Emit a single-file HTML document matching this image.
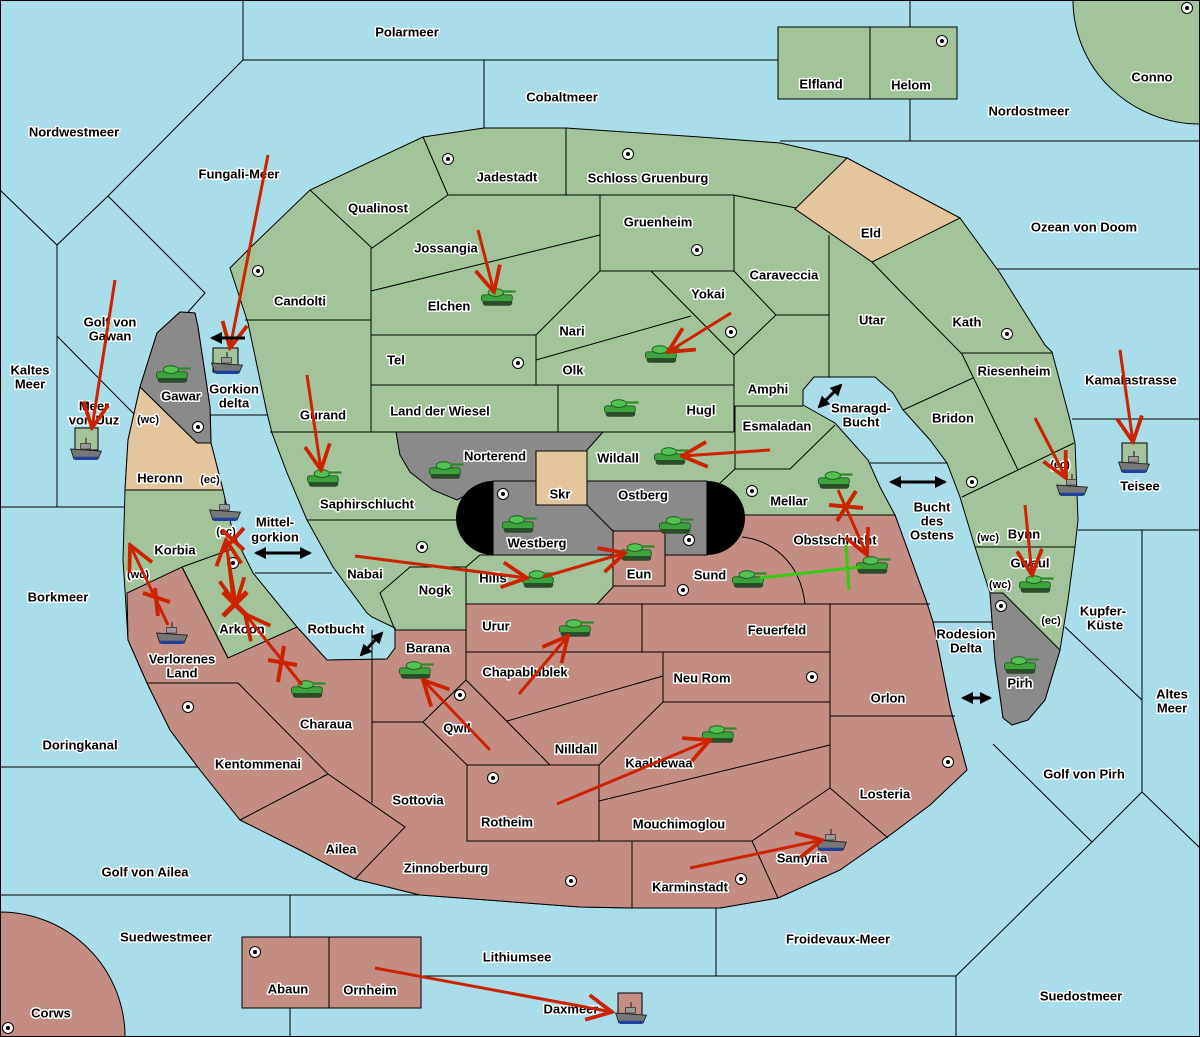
<!DOCTYPE html>
<html><head><meta charset="utf-8"><style>
html,body{margin:0;padding:0;background:#a8dde9;}
svg{display:block}
text{font-family:"Liberation Sans","DejaVu Sans",sans-serif;font-weight:bold;font-size:13px;text-anchor:middle;dominant-baseline:central;fill:#000;stroke:#fff;stroke-width:3px;paint-order:stroke;stroke-linejoin:round}
.s{font-size:11px}
</style></head><body>
<svg width="1200" height="1037" viewBox="0 0 1200 1037" xmlns="http://www.w3.org/2000/svg">
<defs>
<marker id="rh" markerUnits="userSpaceOnUse" markerWidth="30" markerHeight="30" refX="22" refY="12" orient="auto" viewBox="0 0 24 24"><path d="M2,2 L22,12 L2,22" fill="none" stroke="#cc2200" stroke-width="3"/></marker>
<marker id="bh" markerUnits="userSpaceOnUse" markerWidth="14" markerHeight="14" refX="10" refY="7" orient="auto-start-reverse" viewBox="0 0 14 14"><path d="M0,1 L12,7 L0,13 Z" fill="#000"/></marker>
<g id="tank0">
<rect x="-14" y="2" width="27" height="6" rx="3" fill="#2d4a2d"/>
<rect x="-15" y="-2" width="28" height="6" rx="2" fill="#3ea23e" stroke="#1d5a1d" stroke-width="0.8"/>
<ellipse cx="-2" cy="-4" rx="7" ry="3.5" fill="#52c252" stroke="#1d5a1d" stroke-width="0.8"/>
<line x1="4" y1="-5" x2="16" y2="-5" stroke="#2a8a2a" stroke-width="2"/>
</g>
<g id="tank"><use href="#tank0" transform="scale(1.1)"/></g>
<g id="ship0">
<path d="M-14,0 L14,2 L11,9 L-11,9 Z" fill="#777" stroke="#222" stroke-width="0.8"/>
<path d="M-11,7 L11,7 L10,10 L-10,10 Z" fill="#1e3f9a"/>
<rect x="-5" y="-5" width="9" height="5" fill="#999" stroke="#222" stroke-width="0.6"/>
<line x1="0" y1="-10" x2="0" y2="-5" stroke="#222"/>
</g>
<g id="ship"><use href="#ship0" transform="scale(1.1)"/></g>
<g id="sc"><circle r="5.5" fill="#fff" stroke="#000" stroke-width="1"/><circle r="2" fill="#000"/></g>
</defs>

<g stroke="#000" stroke-width="1" fill="none">
<polyline points="243,0 243,60 778,60"/>
<line x1="484" y1="60" x2="484" y2="128"/>
<polyline points="243,60 108,196 57,245 0,190"/>
<polyline points="57,245 57,507"/>
<polyline points="108,196 205,293 188,312"/>
<line x1="57" y1="336" x2="135" y2="415"/>
<line x1="0" y1="507" x2="124" y2="507"/>
<line x1="210" y1="415" x2="267" y2="415"/>
<line x1="255" y1="573" x2="332" y2="573"/>
<line x1="0" y1="767" x2="205" y2="767"/>
<line x1="0" y1="895" x2="420" y2="895"/>
<line x1="290" y1="895" x2="290" y2="937"/>
<line x1="290" y1="1008" x2="290" y2="1037"/>
<line x1="421" y1="976" x2="956" y2="976"/>
<line x1="716" y1="908" x2="716" y2="976"/>
<polyline points="956,1037 956,976 1092,842 993,744"/>
<polyline points="1092,842 1142,792 1200,848"/>
<line x1="1142" y1="530" x2="1142" y2="792"/>
<line x1="1065" y1="627" x2="1142" y2="700"/>
<line x1="1078" y1="530" x2="1200" y2="530"/>
<line x1="1072" y1="419" x2="1200" y2="419"/>
<line x1="995" y1="269" x2="1200" y2="269"/>
<line x1="780" y1="141" x2="1200" y2="141"/>
<line x1="910" y1="0" x2="910" y2="27"/>
<line x1="910" y1="99" x2="910" y2="141"/>
<line x1="868" y1="463" x2="947" y2="463"/>
<line x1="933" y1="622" x2="992" y2="622"/>
</g>

<path d="M1073,0 A127,124 0 0 0 1200,124 L1200,0 Z" fill="#a3c49a" stroke="#000"/>
<path d="M0,912 A125,125 0 0 1 125,1037 L0,1037 Z" fill="#c38d84" stroke="#000"/>
<rect x="778" y="27" width="179" height="72" fill="#a3c49a" stroke="#000"/>
<line x1="870" y1="27" x2="870" y2="99" stroke="#000"/>
<rect x="242" y="937" width="179" height="71" fill="#c38d84" stroke="#000"/>
<line x1="329" y1="937" x2="329" y2="1008" stroke="#000"/>
<rect x="618" y="993" width="24" height="24" fill="#c38d84" stroke="#000"/>
<rect x="1122" y="443" width="25" height="26" fill="#a3c49a" stroke="#000"/>
<rect x="213" y="348" width="25" height="24" fill="#a3c49a" stroke="#000"/>
<rect x="75" y="428" width="23" height="22" fill="#a3c49a" stroke="#000"/>

<path fill="#a3c49a" stroke="#000" stroke-width="1" d="M230,268 L253,245 L310,190 L423,137 L484,128 L566,128 L700,137 L780,143 L847,158 L960,218 L1000,273 L1045,345 L1052,352 L1070,420 L1075,443 L1078,520 L1075,547 L1068,600 L1060,650 L1045,700 L1028,720 L1012,725 L1003,718 L995,660 L990,593 L975,547 L960,497 L947,463 L930,440 L903,410 L893,393 L875,377 L814,377 L803,390 L803,405 L835,423 L868,460 L880,487 L895,515 L927,603 L933,622 L950,707 L967,770 L930,805 L890,835 L840,870 L778,898 L720,908 L632,908 L580,907 L420,895 L355,879 L300,850 L240,820 L200,770 L170,730 L147,683 L128,640 L125,590 L123,560 L125,490 L128,440 L140,387 L157,333 L180,312 L195,313 L198,327 L210,407 L211,443 L223,490 L233,533 L253,573 L297,627 L327,660 L387,659 L395,648 L395,628 L372,617 L367,613 L333,567 L307,520 L287,473 L272,433 L267,413 L248,323 Z"/>
<path fill="#c38d84" stroke="#000" stroke-width="1" d="M127,593 L182,567 L228,658 L297,627 L327,660 L387,659 L395,648 L395,630 L466,630 L466,604 L597,604 L613,587 L613,531 L665,531 L665,555 L707,555 L707,515 L895,515 L927,603 L933,622 L950,707 L967,770 L930,805 L890,835 L840,870 L778,898 L720,908 L632,908 L580,907 L420,895 L355,879 L300,850 L240,820 L200,770 L170,730 L147,683 L128,640 Z"/>
<path fill="#8a8a8a" stroke="#000" d="M140,387 L157,333 L180,312 L195,313 L198,327 L210,407 L211,443 L197,443 Z"/>
<path fill="#e3c59e" stroke="#000" d="M140,387 L197,443 L211,443 L223,490 L125,490 L128,440 Z"/>
<path fill="#e3c59e" stroke="#000" d="M795,209 L847,158 L960,218 L872,262 Z"/>
<path fill="#8a8a8a" stroke="#000" d="M990,593 L1003,593 L1060,650 L1045,700 L1028,720 L1012,725 L1003,718 L995,660 Z"/>
<path fill="#8a8a8a" stroke="#000" d="M396,432 L603,432 L587,450 L587,481 L493,481 L457,500 L433,490 L410,472 L400,455 Z"/>
<rect x="493" y="481" width="214" height="74" fill="#8a8a8a" stroke="#000"/>
<path d="M493,481 A37,37 0 0 0 493,555 Z" fill="#000"/>
<path d="M707,481 A38,37 0 0 1 707,555 Z" fill="#000"/>
<rect x="536" y="451" width="51" height="54" fill="#e3c59e" stroke="#000"/>
<rect x="613" y="531" width="52" height="55" fill="#c38d84" stroke="#000"/>

<g stroke="#000" stroke-width="1" fill="none">
<polyline points="310,190 372,248 448,195 733,195 796,208"/>
<line x1="423" y1="137" x2="448" y2="195"/>
<line x1="566" y1="128" x2="566" y2="195"/>
<line x1="371" y1="248" x2="371" y2="432"/>
<line x1="245" y1="320" x2="371" y2="320"/>
<line x1="371" y1="291" x2="600" y2="235"/>
<polyline points="600,195 600,271 734,271 734,195"/>
<line x1="371" y1="335" x2="536" y2="335"/>
<line x1="536" y1="335" x2="600" y2="271"/>
<line x1="536" y1="335" x2="536" y2="385"/>
<line x1="371" y1="385" x2="734" y2="385"/>
<line x1="536" y1="360" x2="691" y2="316"/>
<polyline points="651,271 734,355 776,315 734,271"/>
<line x1="734" y1="355" x2="734" y2="432"/>
<polyline points="776,315 829,315"/>
<line x1="829" y1="235" x2="829" y2="377"/>
<line x1="734" y1="406" x2="803" y2="406"/>
<polyline points="735,406 735,469 790,469 835,425"/>
<line x1="720" y1="483" x2="735" y2="469"/>
<line x1="558" y1="385" x2="558" y2="432"/>
<line x1="270" y1="432" x2="734" y2="432"/>
<line x1="307" y1="520" x2="457" y2="520"/>
<polyline points="493,555 480,555 466,567 410,567 380,593 395,630"/>
<line x1="466" y1="567" x2="466" y2="604"/>
<line x1="587" y1="505" x2="613" y2="531"/>
<line x1="745" y1="515" x2="895" y2="515"/>
<path d="M742,537 C770,540 800,560 805,604"/>
<line x1="466" y1="604" x2="930" y2="604"/>
<line x1="642" y1="604" x2="642" y2="652"/>
<line x1="466" y1="652" x2="830" y2="652"/>
<polyline points="663,652 663,702 830,702"/>
<line x1="830" y1="604" x2="830" y2="788"/>
<line x1="830" y1="716" x2="955" y2="716"/>
<line x1="372" y1="630" x2="372" y2="803"/>
<line x1="466" y1="630" x2="466" y2="680"/>
<polyline points="372,722 423,722 466,680 550,765"/>
<polyline points="423,722 467,765 599,765 663,702"/>
<line x1="507" y1="721" x2="663" y2="676"/>
<polyline points="467,765 467,841 752,841"/>
<line x1="599" y1="765" x2="599" y2="841"/>
<line x1="599" y1="801" x2="830" y2="745"/>
<line x1="752" y1="841" x2="830" y2="788"/>
<line x1="752" y1="841" x2="778" y2="898"/>
<line x1="830" y1="788" x2="888" y2="838"/>
<line x1="632" y1="841" x2="632" y2="908"/>
<polyline points="238,683 328,774 405,827 355,879"/>
<line x1="328" y1="774" x2="240" y2="820"/>
<line x1="147" y1="683" x2="238" y2="683"/>
<line x1="182" y1="567" x2="228" y2="658"/>
<line x1="182" y1="567" x2="232" y2="549"/>
<line x1="125" y1="490" x2="223" y2="490"/>
<polyline points="872,262 900,291 962,354"/>
<line x1="962" y1="353" x2="1052" y2="353"/>
<line x1="962" y1="354" x2="1018" y2="470"/>
<line x1="903" y1="410" x2="973" y2="378"/>
<line x1="962" y1="497" x2="1074" y2="443"/>
<line x1="975" y1="547" x2="1075" y2="547"/>
</g>

<g>
<use href="#sc" x="448" y="159"/><use href="#sc" x="628" y="154"/><use href="#sc" x="697" y="250"/><use href="#sc" x="258" y="271"/><use href="#sc" x="518" y="363"/><use href="#sc" x="731" y="332"/><use href="#sc" x="1007" y="334"/><use href="#sc" x="198" y="427"/><use href="#sc" x="972" y="482"/><use href="#sc" x="503" y="494"/><use href="#sc" x="689" y="540"/><use href="#sc" x="752" y="491"/><use href="#sc" x="422" y="547"/><use href="#sc" x="683" y="590"/><use href="#sc" x="1001" y="606"/><use href="#sc" x="233" y="563"/><use href="#sc" x="460" y="695"/><use href="#sc" x="812" y="677"/><use href="#sc" x="493" y="778"/><use href="#sc" x="948" y="762"/><use href="#sc" x="571" y="881"/><use href="#sc" x="741" y="879"/><use href="#sc" x="188" y="707"/><use href="#sc" x="942" y="41"/><use href="#sc" x="255" y="952"/><use href="#sc" x="8" y="1028"/><use href="#sc" x="1187" y="8"/>
</g>

<g>
<text x="407" y="32">Polarmeer</text><text x="562" y="97">Cobaltmeer</text>
<text x="821" y="84">Elfland</text><text x="911" y="85">Helom</text><text x="1152" y="77">Conno</text>
<text x="1029" y="111">Nordostmeer</text><text x="74" y="132">Nordwestmeer</text><text x="239" y="174">Fungali-Meer</text>
<text x="507" y="177">Jadestadt</text><text x="648" y="178">Schloss Gruenburg</text><text x="378" y="208">Qualinost</text>
<text x="658" y="222">Gruenheim</text><text x="871" y="233">Eld</text><text x="1084" y="227">Ozean von Doom</text>
<text x="446" y="248">Jossangia</text><text x="784" y="275">Caraveccia</text><text x="300" y="301">Candolti</text>
<text x="449" y="306">Elchen</text><text x="708" y="294">Yokai</text><text x="872" y="320">Utar</text><text x="967" y="322">Kath</text>
<text x="110" y="322">Golf von</text><text x="110" y="336">Gawan</text>
<text x="572" y="331">Nari</text><text x="396" y="360">Tel</text><text x="573" y="370">Olk</text>
<text x="30" y="370">Kaltes</text><text x="30" y="384">Meer</text>
<text x="1014" y="371">Riesenheim</text><text x="1131" y="380">Kamalastrasse</text><text x="768" y="389">Amphi</text>
<text x="234" y="389">Gorkion</text><text x="234" y="403">delta</text>
<text x="181" y="396">Gawar</text>
<text x="94" y="406">Meer</text><text x="94" y="420">von Uuz</text>
<text x="440" y="411">Land der Wiesel</text><text x="701" y="410">Hugl</text>
<text x="861" y="408">Smaragd-</text><text x="861" y="422">Bucht</text>
<text x="323" y="415">Gurand</text><text x="953" y="418">Bridon</text><text class="s" x="148" y="420">(wc)</text>
<text x="777" y="426">Esmaladan</text><text x="495" y="456">Norterend</text><text x="618" y="458">Wildall</text>
<text x="160" y="478">Heronn</text><text class="s" x="210" y="480">(ec)</text><text class="s" x="1060" y="465">(ec)</text>
<text x="1140" y="486">Teisee</text><text x="560" y="494">Skr</text><text x="643" y="495">Ostberg</text><text x="789" y="501">Mellar</text>
<text x="367" y="504">Saphirschlucht</text>
<text x="932" y="507">Bucht</text><text x="932" y="521">des</text><text x="932" y="535">Ostens</text>
<text class="s" x="226" y="532">(ec)</text>
<text x="275" y="522">Mittel-</text><text x="275" y="537">gorkion</text>
<text x="1024" y="534">Bynn</text><text class="s" x="988" y="538">(wc)</text><text x="835" y="540">Obstschlucht</text>
<text x="537" y="543">Westberg</text><text x="175" y="550">Korbia</text><text x="1030" y="563">Gwaul</text>
<text x="365" y="574">Nabai</text><text class="s" x="138" y="575">(wc)</text><text x="639" y="574">Eun</text><text x="710" y="575">Sund</text>
<text x="493" y="578">Hills</text><text class="s" x="1000" y="585">(wc)</text><text x="435" y="590">Nogk</text><text x="58" y="597">Borkmeer</text>
<text x="1103" y="611">Kupfer-</text><text x="1105" y="625">Küste</text><text class="s" x="1051" y="621">(ec)</text>
<text x="496" y="626">Urur</text><text x="242" y="629">Arkoon</text><text x="336" y="629">Rotbucht</text><text x="777" y="630">Feuerfeld</text>
<text x="966" y="634">Rodesion</text><text x="966" y="648">Delta</text>
<text x="428" y="648">Barana</text>
<text x="182" y="659">Verlorenes</text><text x="182" y="673">Land</text>
<text x="525" y="672">Chapablublek</text><text x="702" y="678">Neu Rom</text><text x="1020" y="683">Pirh</text><text x="888" y="698">Orlon</text>
<text x="1172" y="694">Altes</text><text x="1172" y="708">Meer</text>
<text x="326" y="724">Charaua</text><text x="457" y="728">Qwil</text><text x="80" y="745">Doringkanal</text><text x="576" y="749">Nilldall</text>
<text x="659" y="763">Kaaldewaa</text><text x="258" y="764">Kentommenai</text><text x="1084" y="774">Golf von Pirh</text>
<text x="885" y="794">Losteria</text><text x="418" y="800">Sottovia</text><text x="507" y="822">Rotheim</text><text x="679" y="824">Mouchimoglou</text>
<text x="341" y="849">Ailea</text><text x="802" y="858">Samyria</text><text x="446" y="868">Zinnoberburg</text><text x="145" y="872">Golf von Ailea</text>
<text x="690" y="887">Karminstadt</text><text x="166" y="937">Suedwestmeer</text><text x="838" y="939">Froidevaux-Meer</text>
<text x="517" y="957">Lithiumsee</text><text x="288" y="989">Abaun</text><text x="370" y="990">Ornheim</text>
<text x="1081" y="996">Suedostmeer</text><text x="571" y="1009">Daxmeer</text><text x="51" y="1013">Corws</text>
</g>

<g>
<use href="#tank" x="173" y="374"/><use href="#tank" x="324" y="478"/><use href="#tank" x="446" y="470"/><use href="#tank" x="498" y="297"/><use href="#tank" x="662" y="354"/><use href="#tank" x="621" y="408"/><use href="#tank" x="671" y="456"/><use href="#tank" x="835" y="480"/><use href="#tank" x="519" y="524"/><use href="#tank" x="676" y="525"/><use href="#tank" x="637" y="552"/><use href="#tank" x="539" y="579"/><use href="#tank" x="873" y="565"/><use href="#tank" x="749" y="579"/><use href="#tank" x="1036" y="584"/><use href="#tank" x="1021" y="665"/><use href="#tank" x="576" y="628"/><use href="#tank" x="416" y="670"/><use href="#tank" x="719" y="734"/><use href="#tank" x="308" y="689"/>
<use href="#ship" x="227" y="363"/><use href="#ship" x="86" y="449"/><use href="#ship" x="225" y="510"/><use href="#ship" x="172" y="633"/><use href="#ship" x="1072" y="485"/><use href="#ship" x="1134" y="462"/><use href="#ship" x="831" y="840"/><use href="#ship" x="631" y="1013"/>
</g>

<g stroke="#cc2200" stroke-width="3" fill="none" marker-end="url(#rh)">
<line x1="268" y1="155" x2="230" y2="348"/>
<line x1="115" y1="280" x2="92" y2="428"/>
<line x1="478" y1="230" x2="494" y2="292"/>
<line x1="731" y1="313" x2="668" y2="352"/>
<line x1="770" y1="450" x2="682" y2="456"/>
<line x1="307" y1="375" x2="321" y2="470"/>
<line x1="355" y1="556" x2="527" y2="578"/>
<line x1="543" y1="577" x2="625" y2="553"/>
<line x1="233" y1="600" x2="226" y2="540"/>
<line x1="228" y1="555" x2="236" y2="604"/>
<line x1="302" y1="685" x2="245" y2="614"/>
<line x1="168" y1="625" x2="130" y2="545"/>
<line x1="519" y1="694" x2="568" y2="636"/>
<line x1="490" y1="750" x2="423" y2="680"/>
<line x1="557" y1="804" x2="710" y2="740"/>
<line x1="690" y1="868" x2="822" y2="840"/>
<line x1="375" y1="968" x2="612" y2="1012"/>
<line x1="1120" y1="350" x2="1133" y2="442"/>
<line x1="1035" y1="418" x2="1066" y2="478"/>
<line x1="1025" y1="505" x2="1032" y2="575"/>
<line x1="838" y1="490" x2="867" y2="555"/>
</g>
<g stroke="#cc2200" stroke-width="4" fill="none">
<path d="M222,530 L244,550 M244,528 L222,552"/>
<path d="M143,593 L170,602 M155,588 L158,616"/>
<path d="M268,660 L297,665 M284,646 L278,682"/>
<path d="M829,505 L863,508 M856,491 L837,521"/>
</g>
<path d="M223,592 L247,616 M247,592 L223,616" stroke="#cc2200" stroke-width="5"/>
<g stroke="#33cc11" stroke-width="3" fill="none">
<line x1="760" y1="578" x2="860" y2="567"/>
<line x1="846" y1="545" x2="849" y2="590"/>
</g>
<g stroke="#000" stroke-width="3" fill="none">
<line x1="245" y1="338" x2="212" y2="338" marker-end="url(#bh)"/>
<line x1="256" y1="553" x2="310" y2="553" marker-start="url(#bh)" marker-end="url(#bh)"/>
<line x1="361" y1="655" x2="382" y2="633" marker-start="url(#bh)" marker-end="url(#bh)"/>
<line x1="819" y1="407" x2="841" y2="385" marker-start="url(#bh)" marker-end="url(#bh)"/>
<line x1="891" y1="482" x2="945" y2="482" marker-start="url(#bh)" marker-end="url(#bh)"/>
<line x1="963" y1="698" x2="990" y2="698" marker-start="url(#bh)" marker-end="url(#bh)"/>
</g>
<rect x="0.5" y="0.5" width="1199" height="1036" fill="none" stroke="#000"/>
</svg>
</body></html>
